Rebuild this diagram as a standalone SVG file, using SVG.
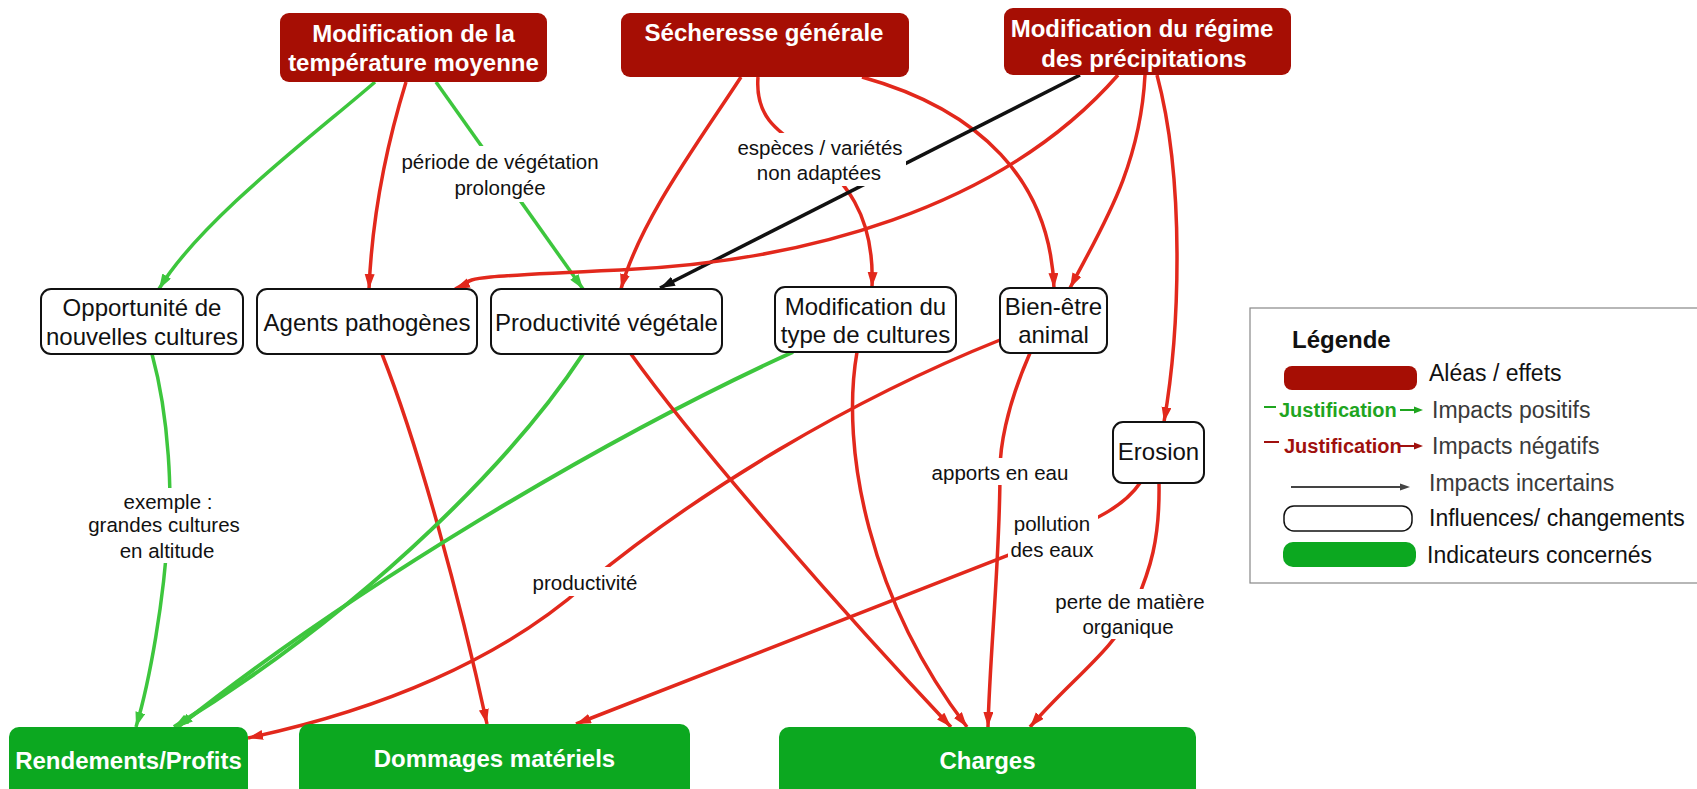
<svg xmlns="http://www.w3.org/2000/svg" width="1697" height="789" viewBox="0 0 1697 789">
<defs>
<style>
.hz{fill:#A60E04}
.ht{font-family:"Liberation Sans",Arial,sans-serif;font-weight:bold;font-size:24px;fill:#fff;text-anchor:middle}
.nd{fill:#fff;stroke:#111;stroke-width:2}
.nt{font-family:"Liberation Sans",Arial,sans-serif;font-size:24px;fill:#111;text-anchor:middle}
.ind{fill:#0CA820}
.it{font-family:"Liberation Sans",Arial,sans-serif;font-weight:bold;font-size:24px;fill:#fff;text-anchor:middle}
.r{fill:none;stroke:#E2281C;stroke-width:3.5;marker-end:url(#ar)}
.g{fill:none;stroke:#3DC63D;stroke-width:3.5;marker-end:url(#ag)}
.k{fill:none;stroke:#111;stroke-width:3.5;marker-end:url(#ak)}
.lb{fill:#fff}
.lt{font-family:"Liberation Sans",Arial,sans-serif;font-size:20.5px;fill:#111;text-anchor:middle}
.lg{font-family:"Liberation Sans",Arial,sans-serif;font-size:23px;fill:#111}
.lg2{font-family:"Liberation Sans",Arial,sans-serif;font-size:23px;fill:#3a3a3a}
.jt{font-family:"Liberation Sans",Arial,sans-serif;font-weight:bold;font-size:20px}
</style>
<marker id="ar" markerUnits="userSpaceOnUse" markerWidth="17" markerHeight="11" refX="15" refY="5" orient="auto"><path d="M0,0 L15,5 L0,10 z" fill="#E2281C"/></marker>
<marker id="ag" markerUnits="userSpaceOnUse" markerWidth="17" markerHeight="11" refX="15" refY="5" orient="auto"><path d="M0,0 L15,5 L0,10 z" fill="#3DC63D"/></marker>
<marker id="ak" markerUnits="userSpaceOnUse" markerWidth="17" markerHeight="11" refX="15" refY="5" orient="auto"><path d="M0,0 L15,5 L0,10 z" fill="#111"/></marker>
</defs>
<rect x="0" y="0" width="1697" height="789" fill="#fff"/>

<g id="connectors">
<path class="g" d="M375,82 C320,130 200,220 159,289"/>
<path class="r" d="M406,82 C385,150 372,220 369,289"/>
<path class="g" d="M436,82 L583,289"/>
<path class="r" d="M741,77 C700,140 640,220 621,289"/>
<path class="r" d="M758,77 C755,115 775,130 805,150 C845,178 875,215 872,287"/>
<path class="r" d="M862,77 C980,110 1050,180 1054,288"/>
<path class="k" d="M1080,75 L660,288"/>
<path class="r" d="M1118,75 C1000,210 800,262 620,270 S480,278 455,289"/>
<path class="r" d="M1145,75 C1140,170 1100,230 1070,288"/>
<path class="r" d="M1157,75 C1185,180 1180,330 1164,422"/>
<path class="g" d="M152,354 C170,420 172,500 168,530 C164,600 150,680 136,727"/>
<path class="r" d="M382,354 C420,450 460,600 487,724"/>
<path class="g" style="stroke-width:4" d="M583,354 C520,450 380,600 174,727"/>
<path class="g" style="stroke-width:4" d="M793,352 C600,440 350,590 178,727"/>
<path class="r" d="M631,354 C700,450 850,620 951,727"/>
<path class="r" d="M857,352 C840,450 870,600 967,727"/>
<path class="r" d="M1000,340 C850,400 700,490 585,585 C500,660 380,710 248,738"/>
<path class="r" d="M1030,353 C1005,410 1000,450 1000,470 C1000,560 990,650 988,727"/>
<path class="r" d="M1140,483 C1125,505 1100,518 1055,537 L576,724"/>
<path class="r" d="M1159,483 C1160,540 1150,570 1135,605 C1115,650 1070,680 1030,727"/>

<rect class="lb" x="398" y="146" width="204" height="56"/>
<text class="lt" x="500" y="169">période de végétation</text>
<text class="lt" x="500" y="195">prolongée</text>
<rect class="lb" x="733" y="133" width="173" height="53"/>
<text class="lt" x="820" y="155">espèces / variétés</text>
<text class="lt" x="819" y="180">non adaptées</text>
<rect class="lb" x="84" y="488" width="160" height="75"/>
<text class="lt" x="168" y="509">exemple :</text>
<text class="lt" x="164" y="532">grandes cultures</text>
<text class="lt" x="167" y="558">en altitude</text>
<rect class="lb" x="528" y="567" width="115" height="29"/>
<text class="lt" x="585" y="590">productivité</text>
<rect class="lb" x="928" y="458" width="144" height="27"/>
<text class="lt" x="1000" y="480">apports en eau</text>
<rect class="lb" x="1008" y="512" width="90" height="51"/>
<text class="lt" x="1052" y="531">pollution</text>
<text class="lt" x="1052" y="557">des eaux</text>
<rect class="lb" x="1050" y="589" width="160" height="50"/>
<text class="lt" x="1130" y="609">perte de matière</text>
<text class="lt" x="1128" y="634">organique</text>
</g>

<g id="n-temperature">
<rect class="hz" x="280" y="13" width="267" height="69" rx="9"/>
<text class="ht" x="413.5" y="42">Modification de la</text>
<text class="ht" x="413.5" y="71">température moyenne</text>
</g>
<g id="n-secheresse">
<rect class="hz" x="621" y="13" width="288" height="64" rx="9"/>
<text class="ht" x="764" y="41">Sécheresse générale</text>
</g>
<g id="n-precipitations">
<rect class="hz" x="1004" y="8" width="287" height="67" rx="9"/>
<text class="ht" x="1142" y="37">Modification du régime</text>
<text class="ht" x="1144" y="67">des précipitations</text>
</g>

<g id="n-opportunite">
<rect class="nd" x="41" y="289" width="202" height="65" rx="10"/>
<text class="nt" x="142" y="316">Opportunité de</text>
<text class="nt" x="142" y="345">nouvelles cultures</text>
</g>
<g id="n-pathogenes">
<rect class="nd" x="257" y="289" width="220" height="65" rx="10"/>
<text class="nt" x="367" y="331">Agents pathogènes</text>
</g>
<g id="n-productivite">
<rect class="nd" x="491" y="289" width="231" height="65" rx="10"/>
<text class="nt" x="606.5" y="331">Productivité végétale</text>
</g>
<g id="n-type-cultures">
<rect class="nd" x="775" y="287" width="181" height="65" rx="10"/>
<text class="nt" x="865.5" y="315">Modification du</text>
<text class="nt" x="865.5" y="343">type de cultures</text>
</g>
<g id="n-bien-etre">
<rect class="nd" x="1000" y="288" width="107" height="65" rx="10"/>
<text class="nt" x="1053.5" y="315">Bien-être</text>
<text class="nt" x="1053.5" y="343">animal</text>
</g>
<g id="n-erosion">
<rect class="nd" x="1113" y="422" width="91" height="61" rx="10"/>
<text class="nt" x="1158.5" y="460">Erosion</text>
</g>

<g id="n-rendements">
<rect class="ind" x="9" y="727" width="239" height="80" rx="10"/>
<text class="it" x="128.5" y="769">Rendements/Profits</text>
</g>
<g id="n-dommages">
<rect class="ind" x="299" y="724" width="391" height="83" rx="10"/>
<text class="it" x="494.5" y="767">Dommages matériels</text>
</g>
<g id="n-charges">
<rect class="ind" x="779" y="727" width="417" height="80" rx="10"/>
<text class="it" x="987.5" y="769">Charges</text>
</g>

<g id="legend">
<rect x="1250" y="308" width="460" height="275" fill="#fff" stroke="#888" stroke-width="1.2"/>
<text x="1292" y="348" style="font-family:'Liberation Sans',Arial,sans-serif;font-weight:bold;font-size:24px;fill:#111">Légende</text>
<rect class="hz" x="1284" y="366" width="133" height="24" rx="8"/>
<text class="lg" x="1429" y="381">Aléas / effets</text>
<line x1="1264" y1="407" x2="1276" y2="407" stroke="#1FA51F" stroke-width="2"/>
<text class="jt" x="1279" y="417" fill="#1FA51F">Justification</text>
<line x1="1400" y1="410" x2="1416" y2="410" stroke="#1FA51F" stroke-width="2"/>
<path d="M1414,406.5 L1423,410 L1414,413.5 z" fill="#1FA51F"/>
<text class="lg2" x="1432" y="418">Impacts positifs</text>
<line x1="1264" y1="442" x2="1279" y2="442" stroke="#A0100E" stroke-width="2"/>
<text class="jt" x="1284" y="453" fill="#A0100E">Justification</text>
<line x1="1400" y1="446" x2="1416" y2="446" stroke="#A0100E" stroke-width="2"/>
<path d="M1414,442.5 L1423,446 L1414,449.5 z" fill="#A0100E"/>
<text class="lg2" x="1432" y="454">Impacts négatifs</text>
<line x1="1291" y1="487" x2="1402" y2="487" stroke="#444" stroke-width="2"/>
<path d="M1400,483.5 L1410,487 L1400,490.5 z" fill="#444"/>
<text class="lg2" x="1429" y="491">Impacts incertains</text>
<rect x="1284" y="506" width="128" height="25" rx="10" fill="#fff" stroke="#111" stroke-width="1.5"/>
<text class="lg" x="1429" y="526">Influences/ changements</text>
<rect class="ind" x="1283" y="542" width="133" height="25" rx="10"/>
<text class="lg" x="1427" y="563">Indicateurs concernés</text>
</g>
</svg>
